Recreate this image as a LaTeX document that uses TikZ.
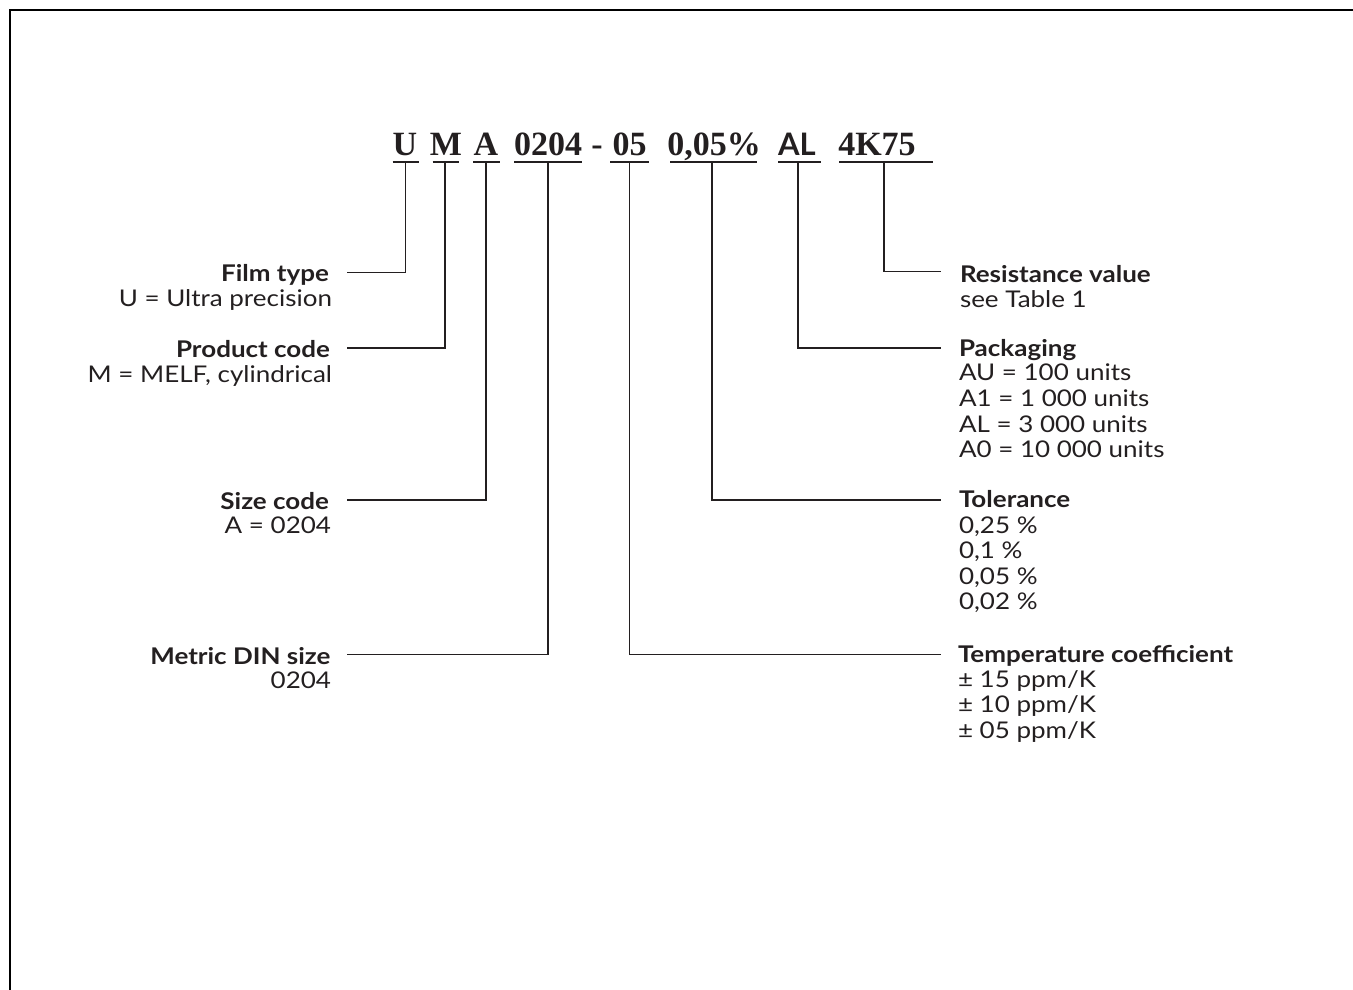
\documentclass[tikz,border=0pt]{standalone}
\usepackage{fontspec}
\setmainfont[FakeStretch=1.13]{Lato}
\newfontfamily\labelsans[FakeStretch=1.0]{Lato}
\newfontfamily\codeserif{Liberation Serif}
\usetikzlibrary{calc}
\definecolor{ink}{HTML}{231F20}
\begin{document}
\begin{tikzpicture}[x=1pt,y=-1pt,
  every node/.style={inner sep=0pt, outer sep=0pt, text=ink},
  lbl/.style={font=\fontsize{23}{26}\selectfont},
  ttl/.style={font=\fontsize{23}{26}\selectfont\bfseries},
  code/.style={font=\fontsize{34}{40}\selectfont\codeserif\bfseries, anchor=base},
  codesans/.style={font=\fontsize{31}{38}\selectfont\labelsans\bfseries, anchor=base},
  uline/.style={line width=1.7pt, draw=ink},
  conn/.style={line width=1.3pt, draw=ink}]
\useasboundingbox (0,0) rectangle (1353,990);
\draw[line width=2.4pt, draw=black] (10,990) -- (10,10) -- (1353,10);

% code string
\node[code] (cU) at (405,155) {U};
\node[code] (cM) at (446,155) {M};
\node[code] (cA) at (486,155) {A};
\node[code] (cS) at (548,155) {0204};
\node[code] (cD) at (597,155) {-};
\node[code] (cT) at (629.5,155) {05};
\node[code] (cP) at (714,155) {0,05\%};
\node[codesans] (cL) at (797,155) {AL};
\node[code] (cR) at (877,155) {4K75};

% underline midpoints
\coordinate (uU) at (405.5,162);
\coordinate (uM) at (445,162);
\coordinate (uA) at (486,162);
\coordinate (uS) at (548,162);
\coordinate (uT) at (629.5,162);
\coordinate (uP) at (712,162);
\coordinate (uL) at (798,162);
\coordinate (uR) at (884,162);

\draw[uline] ($(uU)+(-13,0)$) -- ($(uU)+(13,0)$);
\draw[uline] ($(uM)+(-12.5,0)$) -- ($(uM)+(13.5,0)$);
\draw[uline] ($(uA)+(-13,0)$) -- ($(uA)+(13.5,0)$);
\draw[uline] ($(uS)+(-34,0)$) -- ($(uS)+(34,0)$);
\draw[uline] ($(uT)+(-19.5,0)$) -- ($(uT)+(19,0)$);
\draw[uline] ($(uP)+(-42,0)$) -- ($(uP)+(45,0)$);
\draw[uline] ($(uL)+(-20,0)$) -- ($(uL)+(23,0)$);
\draw[uline] ($(uR)+(-45,0)$) -- ($(uR)+(49,0)$);

% left labels
\node[ttl, anchor=base east] (ftT) at (329,281.5) {Film type};
\node[lbl, anchor=base east] (ftD) at (332,306.5) {U = Ultra precision};
\node[ttl, anchor=base east] (pcT) at (330,357.5) {Product code};
\node[lbl, anchor=base east] (pcD) at (332,382) {M = MELF, cylindrical};
\node[ttl, anchor=base east] (scT) at (329,509) {Size code};
\node[lbl, anchor=base east] (scD) at (331,533) {A = 0204};
\node[ttl, anchor=base east] (mdT) at (330.5,664) {Metric DIN size};
\node[lbl, anchor=base east] (mdD) at (331,688.5) {0204};

\coordinate (lFT) at (346.5,272.5);
\coordinate (lPC) at (346.5,348);
\coordinate (lSC) at (346.5,500);
\coordinate (lMD) at (346.5,654.5);

% right labels
\node[ttl, anchor=base west] (rvT) at (960,282.5) {Resistance value};
\node[lbl, anchor=base west] (rvD) at (960,307.5) {see Table 1};
\node[ttl, anchor=base west] (pkT) at (959,356) {Packaging};
\node[lbl, anchor=base west] (pk1) at (959,380.5) {AU = 100 units};
\node[lbl, anchor=base west] (pk2) at (959,406.5) {A1 = 1 000 units};
\node[lbl, anchor=base west] (pk3) at (959,432) {AL = 3 000 units};
\node[lbl, anchor=base west] (pk4) at (959,457.5) {A0 = 10 000 units};
\node[ttl, anchor=base west] (tlT) at (959,507.5) {Tolerance};
\node[lbl, anchor=base west] (tl1) at (959,533) {0,25 \%};
\node[lbl, anchor=base west] (tl2) at (959,558.5) {0,1 \%};
\node[lbl, anchor=base west] (tl3) at (959,584) {0,05 \%};
\node[lbl, anchor=base west] (tl4) at (959,609.5) {0,02 \%};
\node[ttl, anchor=base west] (tcT) at (958,662) {Temperature coefficient};
\node[lbl, anchor=base west] (tc1) at (958,687) {± 15 ppm/K};
\node[lbl, anchor=base west] (tc2) at (958,712.5) {± 10 ppm/K};
\node[lbl, anchor=base west] (tc3) at (958,738) {± 05 ppm/K};

\coordinate (rRV) at (940.5,271.5);
\coordinate (rPK) at (940.5,348);
\coordinate (rTL) at (940.5,500);
\coordinate (rTC) at (940.5,654.5);

% connectors
\draw[conn] (uU) |- (lFT);
\draw[conn] (uM) |- (lPC);
\draw[conn] (uA) |- (lSC);
\draw[conn] (uS) |- (lMD);
\draw[conn] (uT) |- (rTC);
\draw[conn] (uP) |- (rTL);
\draw[conn] (uL) |- (rPK);
\draw[conn] (uR) |- (rRV);
\end{tikzpicture}
\end{document}
